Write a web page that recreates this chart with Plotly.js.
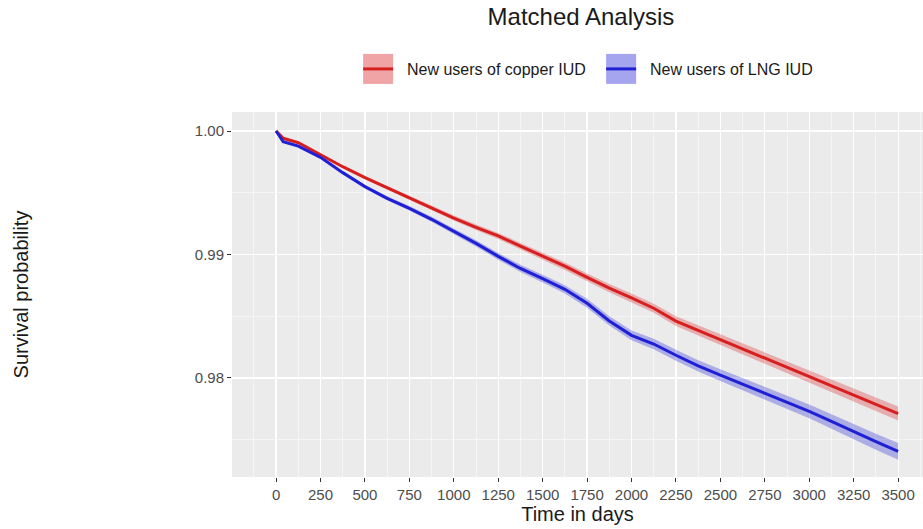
<!DOCTYPE html>
<html>
<head>
<meta charset="utf-8">
<script src="https://cdn.plot.ly/plotly-3.0.1.min.js"></script>
<style>html,body{margin:0;padding:0;background:#fff;}#chart{width:923px;height:529px;}</style>
</head>
<body>
<div id="chart"></div>
<script>
var days = [0,40,125,250,375,500,625,750,875,1000,1125,1250,1375,1500,1625,1750,1875,2000,2125,2250,2375,2500,2625,2750,2875,3000,3125,3250,3375,3500];
var copperSurv = [1.0000,0.99941,0.99905,0.99806,0.99711,0.99623,0.99540,0.99458,0.99375,0.99295,0.99220,0.99150,0.99068,0.98988,0.98905,0.98815,0.98728,0.98648,0.98565,0.98460,0.98385,0.98307,0.98235,0.98162,0.98088,0.98012,0.97935,0.97860,0.97788,0.97712];
var lngSurv = [1.0000,0.99913,0.99878,0.99787,0.99663,0.99550,0.99455,0.99374,0.99285,0.99190,0.99090,0.98985,0.98887,0.98804,0.98718,0.98605,0.98462,0.98345,0.98275,0.98184,0.98098,0.98023,0.97950,0.97879,0.97804,0.97729,0.97648,0.97564,0.97484,0.97405];
var copperHalfCI = [0,0.00003,0.00005,0.00008,0.0001,0.00012,0.00014,0.00016,0.00018,0.0002,0.00022,0.00024,0.00026,0.00028,0.0003,0.00032,0.00034,0.00036,0.00037,0.00039,0.0004,0.00042,0.00043,0.00045,0.00046,0.00048,0.0005,0.00052,0.00054,0.00056];
var lngHalfCI = [0,0.00003,0.00005,0.00009,0.00011,0.00013,0.00016,0.00018,0.0002,0.00022,0.00025,0.00027,0.00029,0.00031,0.00033,0.00036,0.00038,0.0004,0.00042,0.00044,0.00046,0.00048,0.0005,0.00052,0.00054,0.00056,0.00059,0.00062,0.00065,0.00068];
var seriesNames = ["New users of copper IUD", "New users of LNG IUD"];
var yTickVals = [0.98, 0.99, 1.00];
var yTickText = ["0.98", "0.99", "1.00"];
var xTickVals = [0,250,500,750,1000,1250,1500,1750,2000,2250,2500,2750,3000,3250,3500];

var red = "#d81f1f", blue = "#1f1fd6";
var redBand = "rgba(216,31,31,0.30)", blueBand = "rgba(31,31,214,0.30)";

function band(surv, hw, sign){ return surv.map(function(v,i){ return v + sign*hw[i]; }); }

var traces = [
  {x: days, y: band(copperSurv, copperHalfCI, -1), mode: "lines", line:{width:0, color:red}, showlegend:false, hoverinfo:"skip"},
  {x: days, y: band(copperSurv, copperHalfCI, 1), mode: "lines", line:{width:0, color:red}, fill:"tonexty", fillcolor: redBand, showlegend:false, hoverinfo:"skip"},
  {x: days, y: band(lngSurv, lngHalfCI, -1), mode: "lines", line:{width:0, color:blue}, showlegend:false, hoverinfo:"skip"},
  {x: days, y: band(lngSurv, lngHalfCI, 1), mode: "lines", line:{width:0, color:blue}, fill:"tonexty", fillcolor: blueBand, showlegend:false, hoverinfo:"skip"},
  {x: days, y: copperSurv, mode: "lines", name: "\u00a0\u00a0" + seriesNames[0], line:{width:3, color:red}},
  {x: days, y: lngSurv, mode: "lines", name: "\u00a0\u00a0" + seriesNames[1], line:{width:3, color:blue}}
];

var font = "Liberation Sans, Arial, sans-serif";
var layout = {
  width: 923, height: 529,
  margin: {l: 232, r: 0, t: 112, b: 52},
  paper_bgcolor: "#ffffff",
  plot_bgcolor: "#ebebeb",
  font: {family: font, color: "#1a1a1a"},
  title: {text: "Matched Analysis", font: {size: 24, color: "#1a1a1a", family: font}, xref: "container", x: 581/923, xanchor: "center", yref: "container", y: 1 - 17/529, yanchor: "middle"},
  showlegend: true,
  legend: {orientation: "h", x: 0.388, xanchor: "left", xref: "container", y: 1 - 69/529, yref: "container", yanchor: "middle", entrywidth: 198, entrywidthmode: "pixels", font: {size: 16, color: "#1a1a1a", family: font}, bgcolor: "rgba(0,0,0,0)", traceorder: "normal"},
  xaxis: {
    range: [-248, 3640], tickvals: xTickVals, ticks: "outside", ticklen: 4, tickwidth: 1, tickcolor: "#333333",
    tickfont: {size: 15, color: "#4d4d4d", family: font},
    showgrid: true, gridcolor: "#ffffff", gridwidth: 1.2, zeroline: false, showline: false,
    minor: {tick0: -125, dtick: 250, showgrid: true, gridcolor: "#ffffff", gridwidth: 0.5, ticks: ""},
    title: {text: "Time in days", font: {size: 20, color: "#1a1a1a", family: font}, standoff: 2}
  },
  yaxis: {
    range: [0.97198, 1.00154], tickvals: yTickVals, ticktext: yTickText, ticks: "outside", ticklen: 4, tickwidth: 1, tickcolor: "#333333",
    tickfont: {size: 15, color: "#4d4d4d", family: font},
    showgrid: true, gridcolor: "#ffffff", gridwidth: 1.2, zeroline: false, showline: false,
    minor: {tick0: 0.975, dtick: 0.01, showgrid: true, gridcolor: "#ffffff", gridwidth: 0.5, ticks: ""},
    title: {text: "Survival probability", font: {size: 20, color: "#1a1a1a", family: font}, standoff: 160}
  }
};

Plotly.newPlot("chart", traces, layout, {displayModeBar: false, staticPlot: true}).then(function(gd){
  var keys = gd.querySelectorAll(".legend .traces");
  var fills = ["rgba(216,31,31,0.40)", "rgba(31,31,214,0.40)"];
  keys.forEach(function(k, i){
    var lg = k.querySelector(".legendlines");
    if(!lg) return;
    var r = document.createElementNS("http://www.w3.org/2000/svg","rect");
    r.setAttribute("x", 5); r.setAttribute("y", -15);
    r.setAttribute("width", 30); r.setAttribute("height", 30);
    r.setAttribute("fill", fills[i]);
    lg.parentNode.insertBefore(r, lg);
  });
});
</script>
</body>
</html>
